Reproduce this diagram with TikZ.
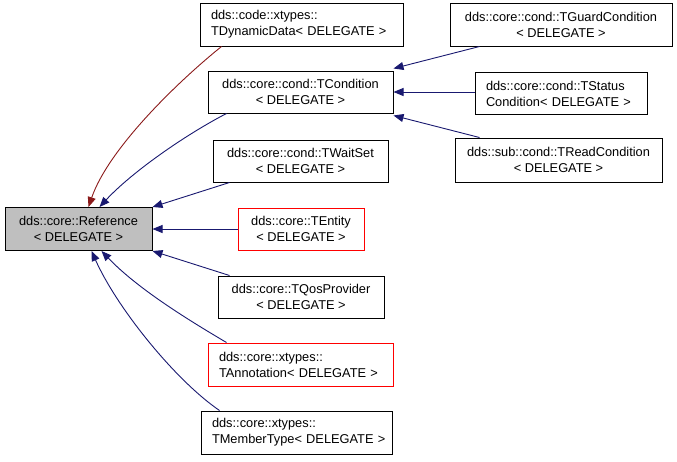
\documentclass[tikz,border=0pt]{standalone}
\usepackage{fontspec}
\setmainfont{Liberation Sans}
\usetikzlibrary{arrows.meta,calc}
\definecolor{edgeblue}{RGB}{25,25,112}
\definecolor{edgered}{RGB}{139,26,26}
\definecolor{refgray}{RGB}{191,191,191}
\tikzset{
  box/.style={draw=black, line width=1pt, rectangle, inner ysep=0pt, inner xsep=0pt,
    minimum height=43pt, font=\fontsize{12.8pt}{16pt}\selectfont},
  cbox/.style={box, align=center},
  lbox/.style={box, align=left, inner xsep=11pt},
  redbox/.style={draw=red},
  edge/.style={draw=edgeblue, line width=0.9pt, -{Triangle[length=10pt,width=8pt]}},
  rededge/.style={edge, draw=edgered, -{Triangle[length=10pt,width=8pt,fill=edgered]}},
}
\begin{document}
\begin{tikzpicture}[x=1pt,y=-1pt]
\useasboundingbox (0,0) rectangle (677,461);
% nodes
\node[cbox, fill=refgray, minimum width=147pt] (ref) at (78.5,229) {dds::core::Reference\\< DELEGATE >};
\node[lbox, text width=181pt] (tdyn) at (301.5,24.5) {\mbox{dds::code::xtypes::}\\\mbox{TDynamicData< DELEGATE >}};
\node[cbox, minimum width=185pt, minimum height=42pt] (tcond) at (300.5,92) {dds::core::cond::TCondition\\< DELEGATE >};
\node[cbox, minimum width=222pt] (tguard) at (561,24.5) {dds::core::cond::TGuardCondition\\< DELEGATE >};
\node[lbox, text width=150pt, minimum height=42pt] (tstatus) at (561,93.5) {\mbox{dds::core::cond::TStatus}\\\mbox{Condition< DELEGATE >}};
\node[cbox, minimum width=207pt, minimum height=44pt] (tread) at (558.5,160) {dds::sub::cond::TReadCondition\\< DELEGATE >};
\node[cbox, minimum width=175pt, minimum height=42pt] (twait) at (300.5,161) {dds::core::cond::TWaitSet\\< DELEGATE >};
\node[cbox, redbox, minimum width=126pt, minimum height=42pt] (tentity) at (301,229) {dds::core::TEntity\\< DELEGATE >};
\node[cbox, minimum width=166pt, minimum height=42pt] (tqos) at (301,297) {dds::core::TQosProvider\\< DELEGATE >};
\node[lbox, redbox, text width=163pt] (tann) at (300.5,364.5) {\mbox{dds::core::xtypes::}\\\mbox{TAnnotation< DELEGATE >}};
\node[lbox, text width=169pt] (tmem) at (296.5,432.5) {\mbox{dds::core::xtypes::}\\\mbox{TMemberType< DELEGATE >}};
% edges to Reference
\draw[rededge] ($(tdyn.south west)+(22,0)$) .. controls (175,84) and (108,150) .. ($(ref.north west)+(84,0)$);
\draw[edge] ($(tcond.south west)+(19,0)$) .. controls (185,135) and (132,172) .. ($(ref.north west)+(95,0)$);
\draw[edge] ($(twait.south west)+(17,0)$) -- (ref.north east);
\draw[edge] (tentity.west) -- (ref.east);
\draw[edge] ($(tqos.north west)+(12,0)$) -- (ref.south east);
\draw[edge] ($(tann.north west)+(19,0)$) .. controls (185,318) and (137,288) .. ($(ref.south west)+(97,0)$);
\draw[edge] ($(tmem.north west)+(19,0)$) .. controls (175,380) and (117,308) .. ($(ref.south west)+(87,0)$);
% edges to TCondition
\draw[edge] ($(tguard.south west)+(30,0)$) -- ($(tcond.north east)+(0,-2)$);
\draw[edge] (tstatus.west |- tcond.east) -- (tcond.east);
\draw[edge] ($(tread.north west)+(25,0)$) -- ($(tcond.south east)+(0,2)$);
\end{tikzpicture}
\end{document}
